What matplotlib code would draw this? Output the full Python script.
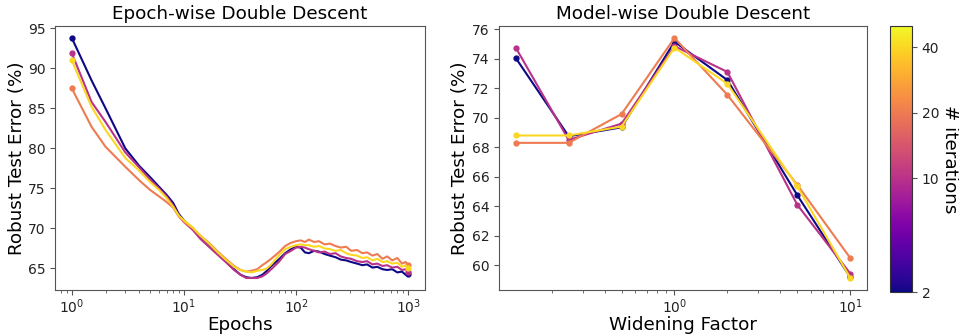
import matplotlib
matplotlib.use("Agg")
import matplotlib.pyplot as plt
import matplotlib.colors as mcolors
import matplotlib.cm as cm
import numpy as np

# number of attack iterations for each curve
iterations = [2, 10, 20, 40]

# epoch-wise curves
epochs = [1, 1.5, 2, 3, 4, 5, 6, 7, 8, 9, 10, 12, 14, 17, 20, 24, 28, 32, 36, 40,
          45, 50, 55, 60, 70, 80, 90, 100, 110, 120, 130, 145, 160, 180, 200, 225,
          250, 280, 310, 350, 390, 430, 480, 530, 590, 650, 720, 800, 880, 950, 1000]
err_it2 = [93.8, 88.5, 85.0, 80.0, 77.8, 76.4, 75.2, 74.2, 73.2, 71.8, 71.0, 70.0, 69.0,
           67.9, 66.9, 65.8, 64.9, 64.2, 63.9, 63.8, 63.9, 64.2, 64.7, 65.3, 66.1, 66.9,
           67.4, 67.7, 67.6, 67.0, 66.9, 67.2, 67.1, 66.8, 66.6, 66.4, 66.1, 66.0, 65.8,
           65.6, 65.4, 65.5, 65.1, 65.2, 64.9, 64.8, 64.9, 64.5, 64.6, 64.2, 64.3]
err_it10 = [91.9, 85.8, 83.3, 79.5, 77.6, 76.1, 75.0, 74.0, 72.9, 71.6, 70.8, 69.8, 68.7,
            67.6, 66.7, 65.7, 64.8, 64.2, 63.8, 63.8, 63.8, 64.0, 64.4, 64.9, 65.8, 66.8,
            67.2, 67.6, 67.7, 67.6, 67.4, 67.2, 67.0, 67.1, 66.8, 66.9, 66.5, 66.3, 66.2,
            65.9, 65.8, 65.9, 65.5, 65.6, 65.3, 65.4, 65.1, 65.2, 64.8, 64.9, 64.6]
err_it20 = [87.5, 82.7, 80.2, 77.7, 76.0, 74.8, 74.0, 73.3, 72.6, 71.5, 70.8, 70.0, 69.1,
            68.1, 67.1, 66.1, 65.3, 64.8, 64.6, 64.7, 64.9, 65.4, 65.8, 66.2, 67.0, 67.8,
            68.2, 68.4, 68.5, 68.3, 68.6, 68.3, 68.4, 68.0, 68.1, 67.8, 67.6, 67.7, 67.2,
            67.3, 66.9, 67.0, 66.6, 66.8, 66.2, 66.5, 66.0, 66.3, 65.6, 65.8, 65.4]
err_it40 = [91.0, 85.2, 82.3, 78.8, 77.2, 75.8, 74.8, 73.8, 72.7, 71.6, 71.0, 70.1, 69.1,
            68.0, 67.0, 66.0, 65.2, 64.8, 64.6, 64.5, 64.7, 64.8, 65.0, 65.5, 66.6, 67.4,
            67.7, 67.9, 68.0, 67.9, 67.9, 67.7, 67.8, 67.5, 67.4, 67.2, 67.3, 66.9, 66.7,
            66.6, 66.3, 66.4, 66.0, 66.2, 65.8, 65.9, 65.6, 65.7, 65.2, 65.4, 65.0]

# model-wise curves
widen = [0.125, 0.25, 0.5, 1, 2, 5, 10]
mw_it2 = [74.05, 68.75, 69.35, 75.15, 72.55, 64.75, 59.2]
mw_it10 = [74.75, 68.5, 69.6, 74.85, 73.1, 64.1, 59.45]
mw_it20 = [68.3, 68.3, 70.25, 75.4, 71.55, 65.45, 60.5]
mw_it40 = [68.8, 68.8, 69.4, 74.75, 72.3, 65.35, 59.15]

epoch_series = [err_it2, err_it10, err_it20, err_it40]
model_series = [mw_it2, mw_it10, mw_it20, mw_it40]

cmap = plt.get_cmap("plasma")
norm = mcolors.LogNorm(vmin=3, vmax=50)
spine_col = "#555555"

fig = plt.figure(figsize=(9.59, 3.35), dpi=100)
W, H = 959.0, 335.0
ax1 = fig.add_axes([55 / W, 45 / H, 370 / W, 264 / H])
ax2 = fig.add_axes([499 / W, 45 / H, 368 / W, 264 / H])
cax = fig.add_axes([890 / W, 43 / H, 22 / W, 266 / H])

for it, vals in zip(iterations, epoch_series):
    ax1.plot(epochs, vals, color=cmap(norm(it)), lw=1.5, marker="o", ms=3.5,
             markevery=[0, len(vals) - 1])
ax1.set_xscale("log")
ax1.set_title("Epoch-wise Double Descent", fontsize=13.2, pad=5)
ax1.set_xlabel("Epochs", fontsize=13.2)
ax1.set_ylabel("Robust Test Error (%)", fontsize=13.2)
ax1.set_yticks([65, 70, 75, 80, 85, 90, 95])
ax1.xaxis.set_label_coords(0.5, -0.097)
ax1.yaxis.set_label_coords(-0.078, 0.5)

for it, vals in zip(iterations, model_series):
    ax2.plot(widen, vals, color=cmap(norm(it)), lw=1.5, marker="o", ms=3.5)
ax2.set_xscale("log")
ax2.set_title("Model-wise Double Descent", fontsize=13.2, pad=5)
ax2.set_xlabel("Widening Factor", fontsize=13.2)
ax2.set_ylabel("Robust Test Error (%)", fontsize=13.2)
ax2.set_yticks(np.arange(60, 77, 2))
ax2.xaxis.set_label_coords(0.5, -0.097)
ax2.yaxis.set_label_coords(-0.081, 0.5)

for ax in (ax1, ax2):
    for s in ax.spines.values():
        s.set_color(spine_col)
    ax.tick_params(which="both", colors=spine_col, labelcolor="#222222", labelsize=10)
    ax.tick_params(axis="x", pad=2)

sm = cm.ScalarMappable(norm=norm, cmap=cmap)
cb = fig.colorbar(sm, cax=cax)
cb.minorticks_off()
cb.set_ticks([3, 10, 20, 40])
cb.set_ticklabels(["2", "10", "20", "40"])
cb.ax.tick_params(labelsize=10, colors=spine_col, labelcolor="#222222")
cb.outline.set_edgecolor("#333333")
cb.set_label("# iterations", rotation=270, va="bottom", fontsize=13.2, labelpad=1)

fig.savefig("out.png", dpi=100)
